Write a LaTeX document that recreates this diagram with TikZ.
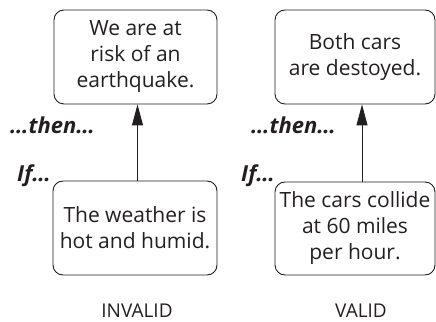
\documentclass[tikz,border=0pt]{standalone}
\usepackage{fontspec}
\setmainfont{Open Sans}
\usetikzlibrary{arrows.meta}
\definecolor{ink}{HTML}{231F20}
\begin{document}
\begin{tikzpicture}[x=1pt,y=1pt,
  claim/.style={draw=ink, line width=0.9pt, rounded corners=10pt, align=center,
    text=ink, font=\fontsize{21}{26}\selectfont, inner sep=0pt},
  cue/.style={text=ink, font=\fontsize{22}{24}\selectfont\bfseries\itshape,
    inner sep=0pt, anchor=base west},
  verdict/.style={text=ink, font=\fontsize{19}{21}\selectfont, inner sep=0pt,
    anchor=base},
  link/.style={draw=ink, line width=0.9pt, -{Triangle[length=21pt,width=11pt]}}]
\useasboundingbox (0,0) rectangle (436,321);

% invalid argument
\node[claim, minimum width=163pt, minimum height=94pt] (lt) at (135.5,264)
  {We are at\\risk of an\\earthquake.};
\node[claim, minimum width=164pt, minimum height=94pt] (lb) at (135,93)
  {The weather is\\hot and humid.};
\draw[link] ([xshift=2.5pt]lb.north) -- ([xshift=2pt]lt.south);
\node[cue] (lthen) at (10,187) {…then…};
\node[cue] (lif) at (17,139) {If…};
\node[verdict] (inv) at (137,4) {INVALID};

% valid argument
\node[claim, minimum width=160pt, minimum height=94pt] (rt) at (355,264)
  {Both cars\\are destoyed.};
\node[claim, minimum width=160pt, minimum height=93pt] (rb) at (355,92.5)
  {The cars collide\\at 60 miles\\per hour.};
\draw[link] ([xshift=7pt]rb.north) -- ([xshift=7pt]rt.south);
\node[cue] (rthen) at (251,187) {…then…};
\node[cue] (rif) at (241,139) {If…};
\node[verdict] (val) at (361,4) {VALID};
\end{tikzpicture}
\end{document}
